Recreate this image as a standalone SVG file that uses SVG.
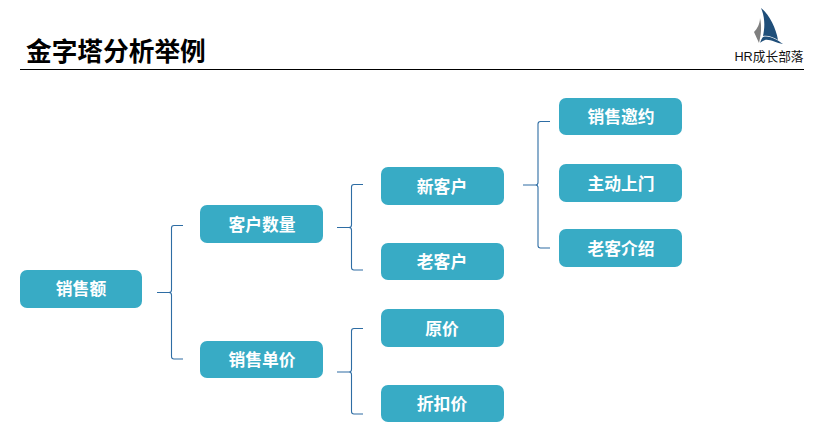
<svg xmlns="http://www.w3.org/2000/svg" width="815" height="446" viewBox="0 0 815 446">
<style>
.box{fill:#38abc5}
.lbl{font-family:"Noto Sans CJK SC","Liberation Sans",sans-serif;font-size:16.800px;font-weight:700;fill:#fff;text-anchor:middle}
.br{fill:none;stroke:#2e6da4;stroke-width:1.1}
</style>
<rect width="815" height="446" fill="#fff"/>
<g id="title">
<text x="26" y="61" font-family="'Noto Sans CJK SC',sans-serif" font-size="25.700" font-weight="700" fill="#000">金字塔分析举例</text>
<line x1="20" y1="69.500" x2="804" y2="69.500" stroke="#000" stroke-width="1"/>
</g>
<g id="logo">
<path d="M761 8C769 14 776 28 778 40C773 37 768 35 763 36C765 27 765 17 761 8Z" fill="#1f4e79"/>
<path d="M760 18C760 24 757 29 754 32L759 43C761 35 762 27 760 18Z" fill="#7f7f7f"/>
<path d="M763 37C770 35 777 40 783 44C776 43 770 39 765 40C763 41 761 42 760 43C761 40 762 38 763 37Z" fill="#1f4e79"/>
<text x="769" y="61" font-family="'Liberation Sans','Noto Sans CJK SC',sans-serif" font-size="12.700" text-anchor="middle" fill="#111">HR成长部落</text>
</g>
<g id="connectors">
<path class="br" d="M157 292.500H169Q171.500 292.500 171.500 290V228Q171.500 225.500 174 225.500H183M169 292.500Q171.500 292.500 171.500 295V356.500Q171.500 359 174 359H183"/>
<path class="br" d="M337 227.500H349Q351.500 227.500 351.500 225V187Q351.500 184.500 354 184.500H363M349 227.500Q351.500 227.500 351.500 230V267.500Q351.500 270 354 270H363"/>
<path class="br" d="M337 372H349Q351.500 372 351.500 369.500V331Q351.500 328.500 354 328.500H363M349 372Q351.500 372 351.500 374.500V411.500Q351.500 414 354 414H363"/>
<path class="br" d="M523 185H535.500Q538 185 538 182.500V124Q538 121.500 540.500 121.500H550M535.500 185Q538 185 538 187.500V245.500Q538 248 540.500 248H550"/>
</g>
<g id="n1"><rect class="box" x="20" y="270" width="122" height="38" rx="7"/><text class="lbl" x="81" y="295">销售额</text></g>
<g id="n2"><rect class="box" x="200" y="205" width="123" height="38" rx="7"/><text class="lbl" x="262" y="230.500">客户数量</text></g>
<g id="n3"><rect class="box" x="200" y="341" width="123" height="37" rx="7"/><text class="lbl" x="262" y="365.500">销售单价</text></g>
<g id="n4"><rect class="box" x="381" y="167" width="123" height="38" rx="7"/><text class="lbl" x="442" y="192.500">新客户</text></g>
<g id="n5"><rect class="box" x="381" y="243" width="123" height="37" rx="7"/><text class="lbl" x="442" y="267.500">老客户</text></g>
<g id="n6"><rect class="box" x="381" y="309" width="123" height="38" rx="7"/><text class="lbl" x="442" y="335">原价</text></g>
<g id="n7"><rect class="box" x="381" y="385" width="123" height="37" rx="7"/><text class="lbl" x="442" y="410">折扣价</text></g>
<g id="n8"><rect class="box" x="559" y="98" width="123" height="37" rx="7"/><text class="lbl" x="621" y="123">销售邀约</text></g>
<g id="n9"><rect class="box" x="559" y="164" width="123" height="38" rx="7"/><text class="lbl" x="621" y="189.500">主动上门</text></g>
<g id="n10"><rect class="box" x="559" y="229" width="123" height="38" rx="7"/><text class="lbl" x="621" y="255">老客介绍</text></g>
</svg>
